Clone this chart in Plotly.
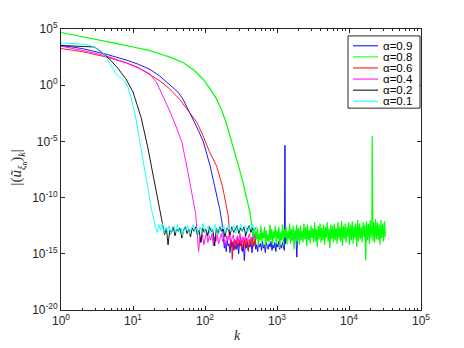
"""Spectral decay of |u_k| for several alpha values (log-log)."""

import numpy as np
import plotly.graph_objects as go

# ---- data: magnitudes are stored as log10 values ----
alphas = ["0.9", "0.8", "0.6", "0.4", "0.2", "0.1"]
colors = ["#0000ff", "#00ff00", "#ff0000", "#ff00ff", "#000000", "#00ffff"]

# smooth decay part (k, log10 |u_k|)
blue_k = [1, 2, 4, 8, 12, 17.2, 23.7, 32, 42, 50, 58, 70, 82, 95, 117, 140, 160, 172]
blue_log = [3.56, 3.25, 2.8, 2.25, 1.85, 1.41, 0.8, 0.09, -0.6, -1.3, -2.2, -3.2, -4.1,
            -5.05, -7.1, -9.3, -11.0, -12.2]

green_k = [1, 2, 3.5, 6, 10, 17.2, 24, 34, 50, 70, 94, 120, 145, 170, 196, 237, 275,
           330, 380, 420]
green_log = [4.69, 4.33, 4.03, 3.7, 3.4, 3.08, 2.78, 2.45, 2.0, 1.35, 0.53, -0.4, -1.24,
             -2.2, -3.3, -5.06, -6.6, -8.4, -10.07, -11.3]

red_k = [1, 2, 4, 8, 12, 17.2, 23.7, 32, 45, 58, 77, 94, 115, 145, 175, 210]
red_log = [3.26, 2.98, 2.55, 2.0, 1.55, 0.97, 0.38, -0.3, -1.3, -2.24, -3.3, -4.5, -5.9,
           -7.2, -9.0, -11.6]

magenta_k = [1, 2, 4, 8, 12, 17.2, 21.4, 26.3, 32.4, 39.8, 47.9, 56.2, 66, 74]
magenta_log = [3.46, 3.1, 2.65, 2.0, 1.5, 1.0, 0.2, -1.0, -2.3, -3.7, -5.1, -7.3, -9.6,
               -11.4]

black_k = [1, 2, 2.9, 3.5, 4.5, 6, 8, 10, 13, 16, 20, 23.7]
black_log = [3.53, 3.47, 3.4, 3.05, 2.45, 1.6, 0.55, -0.6, -2.9, -5.5, -8.8, -11.3]

cyan_k = [1, 1.6, 2, 2.5, 3, 3.5, 4, 4.8, 5.8, 6.6, 7.6, 8.5, 9.5, 11, 13, 15.5, 18]
cyan_log = [3.76, 3.72, 3.65, 3.56, 3.35, 3.1, 2.75, 1.9, 1.0, 0.7, 0.4, -0.2, -1.2,
            -3.0, -5.6, -8.5, -11.0]

# round-off noise floor (k range, log10 values)
blue_noise_range = (180, 2000)
blue_noise = [-13.9, -14.5, -14.0, -14.8, -13.8, -14.3, -14.1, -14.9, -13.9, -14.4,
              -14.0, -14.7, -14.2, -13.8, -14.6, -14.1, -15.0, -14.0, -14.3, -13.9,
              -14.8, -14.2, -15.6, -14.1, -14.5, -13.9, -14.7, -14.2, -14.4, -14.0,
              -14.9, -14.1, -14.3, -13.8, -14.6, -14.2, -14.8, -14.0, -14.4, -14.1,
              -14.7, -13.9, -14.5, -14.2, -14.9, -14.0, -14.3, -14.6, -14.1, -14.4,
              -13.9, -14.7, -14.2, -14.5, -14.0, -14.8, -14.1, -14.4, -13.9, -14.6,
              -14.2, -14.5, -14.0, -14.3, -14.7, -14.1, -13.4, -13.2, -13.6, -13.3,
              -13.5, -13.2, -13.7, -13.4, -13.3, -13.6, -13.2, -15.3, -13.4, -13.3]
blue_spike_k = [1290]
blue_spike_log = [-5.35]

green_noise_range = (450, 32000)
green_noise = [-12.6, -13.9, -12.9, -14.1, -13.0, -13.7, -12.7, -14.3, -13.2, -13.8,
               -12.5, -14.0, -13.1, -13.6, -12.6, -14.4, -12.9, -13.9, -13.3, -14.0,
               -12.4, -13.8, -12.8, -14.2, -13.0, -13.6, -12.5, -14.1, -12.9, -13.7,
               -12.6, -14.5, -13.1, -13.8, -12.4, -14.0, -12.8, -13.6, -12.6, -14.2,
               -13.0, -13.7, -12.3, -14.1, -12.8, -13.9, -12.5, -14.6, -12.9, -13.6,
               -12.4, -13.9, -12.7, -14.2, -12.5, -13.8, -13.0, -14.0, -12.3, -13.7,
               -12.6, -14.3, -12.4, -13.8, -12.9, -14.1, -12.5, -13.6, -12.7, -14.0,
               -12.2, -13.9, -12.8, -14.4, -12.5, -13.7, -12.3, -14.0, -12.7, -13.8,
               -12.4, -14.2, -12.6, -13.6, -12.2, -13.9, -12.8, -14.5, -12.4, -13.7,
               -12.5, -14.0, -12.3, -13.8, -12.7, -14.1, -12.2, -13.6, -12.6, -13.9,
               -12.1, -14.3, -12.5, -13.7, -12.3, -14.0, -12.6, -13.5, -12.2, -14.2,
               -12.4, -13.8, -12.1, -14.1, -12.5, -13.6, -12.3, -14.4, -12.0, -13.9,
               -12.3, -13.7, -12.6, -14.0, -12.2, -13.5, -12.4, -15.6, -12.1, -13.8,
               -12.3, -14.1, -12.0, -13.6, -12.5, -13.9, -12.2, -14.0, -11.9, -13.7,
               -12.2, -13.8, -12.4, -14.2, -12.0, -13.6, -12.3, -13.9, -12.1, -13.5]
green_spike_k = [21000]
green_spike_log = [-4.53]

red_noise_range = (222, 512)
red_noise = [-13.6, -14.3, -13.8, -15.5, -13.9, -14.2, -13.7, -14.6, -13.9, -14.1,
             -13.6, -14.4, -13.8, -14.0, -13.5, -14.7, -13.9, -13.7, -14.3, -13.8,
             -14.5, -13.6, -14.1, -13.9, -14.8, -13.7, -14.2, -13.8, -14.0, -13.6,
             -14.4, -13.9, -14.1, -13.7, -14.3]

magenta_noise_range = (78, 512)
magenta_noise = [-13.2, -14.8, -13.5, -13.9, -13.3, -14.2, -13.6, -13.1, -14.0, -13.4,
                 -13.8, -13.2, -14.3, -13.5, -13.9, -13.3, -14.1, -13.6, -13.2, -13.9,
                 -13.5, -14.4, -13.4, -13.8, -13.1, -14.0, -13.6, -13.3, -14.2, -13.7,
                 -13.4, -13.9, -13.2, -14.1, -13.5, -13.8, -13.3, -14.0, -13.6, -13.2,
                 -13.9, -13.5, -13.7, -13.3, -13.8]

black_noise_range = (26, 512)
black_noise = [-12.8, -13.3, -12.7, -14.2, -12.9, -13.1, -12.6, -13.4, -12.8, -13.0,
               -12.7, -13.6, -12.9, -12.6, -13.2, -12.8, -13.5, -12.7, -13.0, -12.6,
               -13.3, -12.9, -14.0, -12.7, -13.1, -12.8, -13.4, -12.6, -13.0, -12.9,
               -14.3, -12.7, -13.2, -12.6, -13.0, -12.8, -13.5, -12.7, -12.9, -13.3,
               -12.6, -13.1, -12.8, -12.5, -13.2, -12.7, -13.0, -12.6, -13.4, -12.8,
               -12.5, -13.1, -12.7, -12.9, -12.6]

cyan_noise_range = (20.5, 512)
cyan_noise = [-12.6, -13.1, -12.4, -12.9, -12.3, -13.2, -12.7, -13.0, -12.5, -13.3,
              -12.8, -12.6, -13.1, -12.4, -13.0, -12.7, -13.4, -12.6, -12.9, -12.5,
              -13.2, -12.8, -12.4, -13.0, -12.7, -13.3, -12.6, -12.9, -12.3, -13.1,
              -12.8, -12.5, -13.2, -12.7, -13.0, -12.4, -12.9, -13.3, -12.6, -12.8,
              -12.5, -13.1, -12.7, -12.4, -13.0, -12.8, -12.5, -13.2, -12.6, -12.9,
              -12.4, -13.0, -12.7, -12.5, -13.1, -12.6, -12.8, -12.4, -13.0, -12.6]


def build_series(k_dec, log_dec, noise_range, noise, spike_k=(), spike_log=()):
    """Join decay, noise floor and spikes into one sorted (k, |u|) series."""
    k_noise = np.geomspace(noise_range[0], noise_range[1], len(noise))
    k = np.concatenate([k_dec, k_noise, spike_k])
    v = np.concatenate([log_dec, noise, spike_log])
    order = np.argsort(k)
    return k[order], np.power(10.0, v[order])


series = [
    build_series(blue_k, blue_log, blue_noise_range, blue_noise, blue_spike_k, blue_spike_log),
    build_series(green_k, green_log, green_noise_range, green_noise, green_spike_k, green_spike_log),
    build_series(red_k, red_log, red_noise_range, red_noise),
    build_series(magenta_k, magenta_log, magenta_noise_range, magenta_noise),
    build_series(black_k, black_log, black_noise_range, black_noise),
    build_series(cyan_k, cyan_log, cyan_noise_range, cyan_noise),
]

fig = go.Figure()
for (k, u), a, c in zip(series, alphas, colors):
    # the long alpha=0.8 floor is drawn a bit heavier so it reads as a dense band
    w = 1.2 if a == "0.8" else 0.9
    fig.add_trace(go.Scatter(
        x=k, y=u, mode='lines', name=f"α={a}",
        line=dict(color=c, width=w),
        showlegend=False
    ))

# the page adds an 8px body margin, so the figure is laid out 8px up/left
OFF = 8
FIG_W, FIG_H = 464 - OFF, 348 - OFF
# plot area in page pixels: x 61..421, y 26..310
L, T, W, H = 61, 26, 360, 284


def px(x):
    return (x - L) / W


def py(y):
    return (T + H - y) / H


axis_col = '#262626'
tick_font = dict(family="Liberation Sans, Arial, sans-serif", size=12, color=axis_col)

x_minor = [m * 10 ** d for d in range(5) for m in range(2, 10)]

fig.update_xaxes(
    type='log', range=[0, 5],
    tickvals=[10 ** d for d in range(6)],
    ticktext=[f"10<sup>{d}</sup>" for d in range(6)],
    ticks='inside', ticklen=4, tickcolor=axis_col,
    minor=dict(tickvals=x_minor, ticks='inside', ticklen=2, tickcolor=axis_col),
    showline=True, linecolor=axis_col, linewidth=1, mirror='allticks',
    showgrid=False, zeroline=False, tickfont=tick_font
)
fig.update_yaxes(
    type='log', range=[-20, 5],
    tickvals=[10.0 ** d for d in range(-20, 6, 5)],
    ticktext=[f"10<sup>{d}</sup>" for d in range(-20, 6, 5)],
    ticks='inside', ticklen=4, tickcolor=axis_col,
    showline=True, linecolor=axis_col, linewidth=1, mirror='allticks',
    showgrid=False, zeroline=False, tickfont=tick_font
)

# hand-made legend box (matlab style, compact rows)
shapes = [dict(type='rect', xref='paper', yref='paper',
               x0=px(348), x1=px(420), y0=py(106), y1=py(33),
               line=dict(color=axis_col, width=1), fillcolor='white', layer='above')]
annotations = []
row_y = [43, 54.2, 65.4, 76.6, 87.8, 99]
for a, c, ry in zip(alphas, colors, row_y):
    shapes.append(dict(type='line', xref='paper', yref='paper',
                       x0=px(353), x1=px(378), y0=py(ry), y1=py(ry),
                       line=dict(color=c, width=1), layer='above'))
    annotations.append(dict(xref='paper', yref='paper', x=px(381), y=py(ry),
                            xanchor='left', yanchor='middle', showarrow=False,
                            text=f"α={a}",
                            font=dict(family="Liberation Sans, Arial", size=11.5, color='#000')))

# axis titles
annotations.append(dict(xref='paper', yref='paper', x=px(237), y=py(336),
                        xanchor='center', yanchor='middle', showarrow=False,
                        text="<i>k</i>",
                        font=dict(family="Liberation Serif, Times New Roman", size=14,
                                  color=axis_col)))
annotations.append(dict(xref='paper', yref='paper', x=px(18), y=py(166),
                        xanchor='center', yanchor='middle', showarrow=False,
                        textangle=-90,
                        text="|(<i>ũ</i><sub><i>ξ</i><sub>n</sub></sub>)<sub><i>k</i></sub>|",
                        font=dict(family="Liberation Serif, Times New Roman", size=15,
                                  color=axis_col)))

fig.update_layout(
    width=FIG_W, height=FIG_H,
    margin=dict(l=L - OFF, r=FIG_W - (L - OFF) - W, t=T - OFF, b=FIG_H - (T - OFF) - H),
    paper_bgcolor='white', plot_bgcolor='white',
    shapes=shapes, annotations=annotations,
    showlegend=False
)

fig.write_html("out.html")
